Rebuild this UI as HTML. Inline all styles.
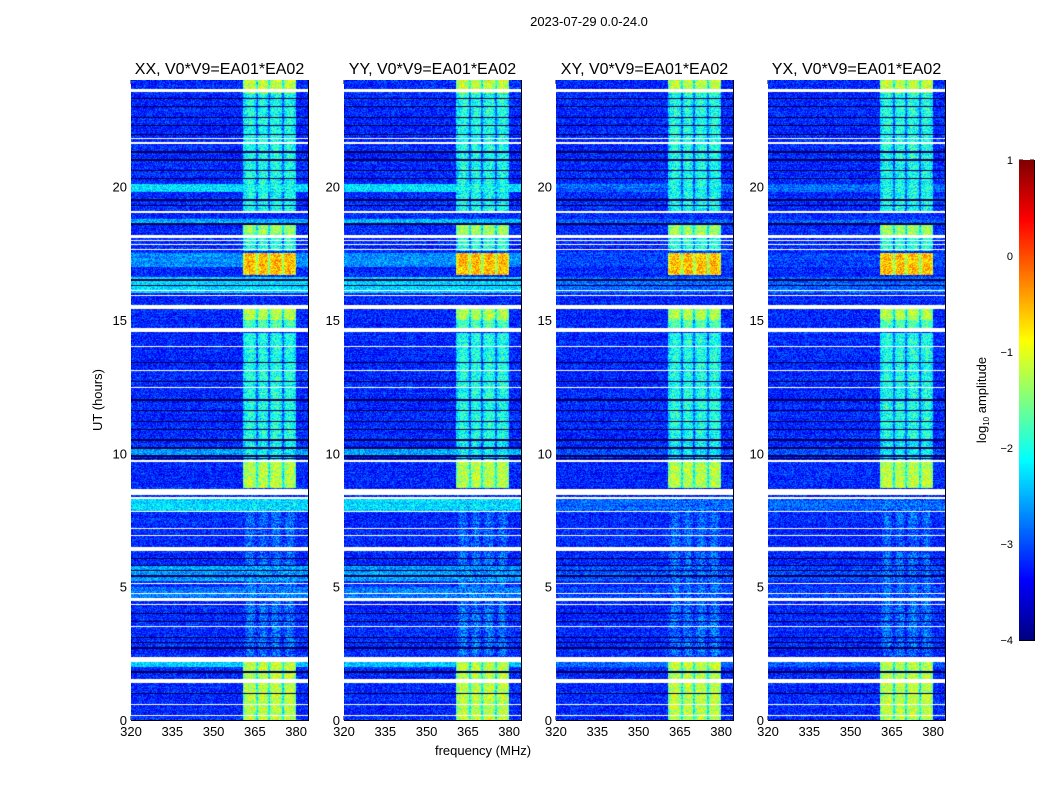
<!DOCTYPE html>
<html><head><meta charset="utf-8"><style>
body{margin:0;background:#fff;width:1050px;height:800px;overflow:hidden;position:relative;font-family:"Liberation Sans",sans-serif}
canvas{position:absolute}
svg{position:absolute;left:0;top:0}
</style></head><body>
<svg id="svg" width="1050" height="800"></svg>
<script>
// ---- data (hours in UT, levels in log10 amplitude) ----
const panelTitles = ["XX, V0*V9=EA01*EA02","YY, V0*V9=EA01*EA02","XY, V0*V9=EA01*EA02","YX, V0*V9=EA01*EA02"];
const panelBgBoost = [1.0, 1.0, 0.35, 0.35];
const xTicks = [320,335,350,365,380];
const yTicks = [0,5,10,15,20];
const cbTicks = [1,0,-1,-2,-3,-4];
const baseLevel = -3.2;
const flagRows = [[23.55,23.65],[21.78,21.84],[21.6,21.66],[19.0,19.1],[18.08,18.2],[17.95,18.0],[17.8,17.84],[17.62,17.66],[16.08,16.13],[15.9,15.94],[15.42,15.58],[14.55,14.7],[13.98,14.02],[13.08,13.12],[12.45,12.5],[9.68,9.74],[8.45,8.68],[8.3,8.36],[7.8,7.84],[7.17,7.21],[6.9,6.95],[6.32,6.48],[5.1,5.14],[4.72,4.76],[4.45,4.57],[4.3,4.34],[3.5,3.54],[2.18,2.38],[1.4,1.55],[0.55,0.6],[0.15,0.19]];
const blackRows = [23.3,23.0,22.6,22.3,21.95,21.3,21.0,20.6,20.3,19.5,19.3,18.6,16.5,16.3,13.4,12.7,12.0,11.6,11.2,10.9,10.5,10.2,9.9,9.8,6.05,5.8,5.6,5.4,4.0,3.7,3.1,2.9,2.7,1.8,1.0];
const bgSegments = [[19.8,20.1,-2.3],[18.6,18.8,-2.5],[16.0,16.6,-2.3],[17.0,17.5,-2.7],[9.9,10.2,-2.6],[7.85,8.3,-2.3],[5.2,5.8,-2.6],[4.5,5.0,-2.8],[2.0,2.2,-2.4]];
const bandSegments = [[23.5,24,-1.1],[21,23.5,-1.95],[19,21,-2.0],[18.2,18.6,-1.3],[17.6,18.2,-1.9],[16.7,17.5,-0.5],[15,15.5,-1.2],[14.6,15,-1.7],[10.5,14.5,-1.95],[9.7,10.5,-2.1],[8.7,9.7,-1.15],[6.5,8.3,-2.85],[2.4,6.3,-2.8],[0,2.2,-1.15]];
const bandRange = [360.8,380.0];
const bandGaps = [365.8,370.2,375.3];

const svg=document.getElementById('svg');const NS='http://www.w3.org/2000/svg';
function mk(tag,at,txt){const e=document.createElementNS(NS,tag);for(const k in at)e.setAttribute(k,at[k]);if(txt!==undefined)e.textContent=txt;svg.appendChild(e);return e;}
function jet(t){t=Math.max(0,Math.min(1,t));const c=v=>Math.round(255*Math.max(0,Math.min(1,v)));return[c(1.5-Math.abs(4*t-3)),c(1.5-Math.abs(4*t-2)),c(1.5-Math.abs(4*t-1))];}
function hash(a,b){let h=(a*374761393+b*668265263)|0;h=(h^(h>>>13))*1274126177|0;return ((h^(h>>>16))>>>0)/4294967296;}
const X0s=[131,344,556,768], W=177, Y0=80, H=640;
const xMin=320, xMax=384.3, yMin=0, yMax=24;
const tt=mk('text',{x:589,y:26,'font-size':13,'text-anchor':'middle'},'2023-07-29 0.0-24.0');

const edges=[bandRange[0]].concat(bandGaps,[bandRange[1]]);

X0s.forEach((x0,p)=>{
  const sx=f=>x0+(f-xMin)/(xMax-xMin)*W, sy=h=>Y0+H-(h-yMin)/(yMax-yMin)*H;
  const cv=document.createElement('canvas');cv.width=W;cv.height=H;cv.style.left=x0+'px';cv.style.top=Y0+'px';
  
  
  document.body.appendChild(cv);
  const ctx=cv.getContext('2d');const img=ctx.createImageData(W,H);
  for(let py=0;py<H;py++){
    const h=yMax-(py+0.5)/H*(yMax-yMin);
    let bg=baseLevel;bgSegments.forEach(s=>{if(h>=s[0]&&h<s[1])bg=baseLevel+(s[2]-baseLevel)*panelBgBoost[p];});
    let band=null;bandSegments.forEach(s=>{if(h>=s[0]&&h<s[1])band=s[2];});
    const flag=flagRows.some(s=>h>=s[0]&&h<s[1]);
    const blk=blackRows.some(b=>Math.abs(h-b)<0.025);
    const rowVar=(hash(py,7+p)-0.5)*0.2;
    for(let px=0;px<W;px++){
      const f=xMin+(px+0.5)/W*(xMax-xMin);const i=(py*W+px)*4;
      if(flag){img.data[i]=img.data[i+1]=img.data[i+2]=255;img.data[i+3]=255;continue;}
      if(blk){img.data[i]=0;img.data[i+1]=0;img.data[i+2]=80;img.data[i+3]=255;continue;}
      let v=bg+rowVar, amp=0.8;
      if(band!==null&&f>=bandRange[0]&&f<bandRange[1]){
        let bv=band;
        for(let k=0;k<edges.length-1;k++){if(f>=edges[k]&&f<edges[k+1]){const c=(edges[k]+edges[k+1])/2,hw=(edges[k+1]-edges[k])/2;bv-=0.45*Math.pow(Math.abs(f-c)/hw,2);}}
        if(bandGaps.some(g=>Math.abs(f-g)<0.35))bv-=0.5;
        v=Math.max(bg,bv)+rowVar;amp=1.0;
      }
      v+=(hash(px+p*997,py)-0.5)*amp;
      const c=jet((v+4)/5);img.data[i]=c[0];img.data[i+1]=c[1];img.data[i+2]=c[2];img.data[i+3]=255;
    }
  }
  ctx.putImageData(img,0,0);
  const fr=mk('rect',{x:x0+0.5,y:Y0+0.5,width:W,height:H,fill:'none',stroke:'#000'});
  
  const t=mk('text',{x:x0+W/2,y:Y0-6,'font-size':16,'text-anchor':'middle'},panelTitles[p]);
  
  xTicks.forEach(v=>{const x=sx(v);
    mk('line',{x1:x,x2:x,y1:Y0+H,y2:Y0+H-4,stroke:'#000'});mk('line',{x1:x,x2:x,y1:Y0,y2:Y0+4,stroke:'#000'});
    const l=mk('text',{x:x,y:Y0+H+16,'font-size':13,'text-anchor':'middle'},v);
    });
  yTicks.forEach(v=>{const y=sy(v);
    mk('line',{x1:x0,x2:x0+4,y1:y,y2:y,stroke:'#000'});mk('line',{x1:x0+W,x2:x0+W-4,y1:y,y2:y,stroke:'#000'});
    const l=mk('text',{x:x0-4,y:y+5,'font-size':13,'text-anchor':'end'},v);
    });
});
const yl=mk('text',{x:102,y:400,'font-size':13,'text-anchor':'middle',transform:'rotate(-90 102 400)'},'UT (hours)');

const xl=mk('text',{x:483,y:755,'font-size':13,'text-anchor':'middle'},'frequency (MHz)');

// colorbar
const cb=document.createElement('canvas');cb.width=15;cb.height=480;cb.style.left='1019px';cb.style.top='160px';


document.body.appendChild(cb);
const cctx=cb.getContext('2d');for(let y=0;y<480;y++){const c=jet(1-(y+0.5)/480);cctx.fillStyle=`rgb(${c[0]},${c[1]},${c[2]})`;cctx.fillRect(0,y,15,1);}
mk('rect',{x:1019.5,y:160.5,width:15,height:480,fill:'none',stroke:'#000'});
cbTicks.forEach(v=>{const y=160+(1-v)/5*480;
  mk('line',{x1:1019,x2:1023,y1:y,y2:y,stroke:'#000'});mk('line',{x1:1034,x2:1030,y1:y,y2:y,stroke:'#000'});
  const l=mk('text',{x:1013,y:y+4,'font-size':11,'text-anchor':'end'},v<0?'\u2212'+(-v):v);
  });
const cl=mk('text',{x:986,y:400,'font-size':13,'text-anchor':'middle',transform:'rotate(-90 986 400)'});

cl.innerHTML='log<tspan font-size="8" dy="3">10</tspan><tspan dy="-3"> amplitude</tspan>';
</script>
</body></html>
